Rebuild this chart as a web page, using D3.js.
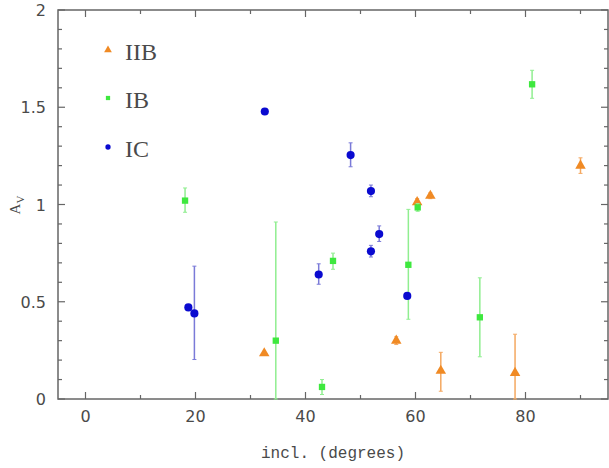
<!DOCTYPE html>
<html><head><meta charset="utf-8">
<script src="https://cdn.jsdelivr.net/npm/d3@7"></script>
<style>body{margin:0;background:#fff}svg{display:block}</style>
</head><body>
<svg id="c" width="609" height="468"></svg>
<script>
// Data: [incl, Av, errLow, errHigh]
const iibX = [32.5, 56.5, 64.6, 78.1, 60.3, 62.7, 90.0];
const iibY = [0.235, 0.30, 0.145, 0.134, 1.012, 1.045, 1.20];
const iibLo = [0.235, 0.28, 0.04, 0.0, 0.99, 1.03, 1.16];
const iibHi = [0.235, 0.32, 0.24, 0.333, 1.03, 1.06, 1.24];

const ibX = [18.1, 34.6, 43.0, 45.0, 58.7, 60.4, 71.7, 81.2];
const ibY = [1.02, 0.30, 0.062, 0.71, 0.69, 0.985, 0.42, 1.618];
const ibLo = [0.96, 0.0, 0.023, 0.667, 0.41, 0.965, 0.217, 1.546];
const ibHi = [1.085, 0.91, 0.10, 0.75, 0.975, 1.005, 0.623, 1.69];

const icX = [32.6, 18.7, 19.8, 42.4, 48.2, 51.9, 53.4, 51.9, 58.5];
const icY = [1.478, 0.471, 0.44, 0.64, 1.254, 1.069, 0.848, 0.759, 0.53];
const icLo = [1.478, 0.471, 0.203, 0.59, 1.194, 1.04, 0.81, 0.73, 0.53];
const icHi = [1.478, 0.471, 0.683, 0.695, 1.317, 1.10, 0.89, 0.79, 0.53];

const xMajor = [0, 20, 40, 60, 80];
const yMajor = [0, 0.5, 1, 1.5, 2];
const yLabels = ["0", "0.5", "1", "1.5", "2"];
const seriesNames = ["IIB", "IB", "IC"];

const svg = d3.select("#c");
const L = 58, R = 608, T = 10, B = 399;
const x = d3.scaleLinear().domain([-5, 95]).range([L, R]);
const y = d3.scaleLinear().domain([0, 2]).range([B, T]);
const axisCol = "#666", txtCol = "#4a4a4a";

// frame
svg.append("rect").attr("x", L).attr("y", T).attr("width", R - L).attr("height", B - T)
  .attr("fill", "none").attr("stroke", axisCol).attr("stroke-width", 1.5);

// x ticks
const xTicks = d3.range(0, 95, 10);
xTicks.forEach(v => {
  const len = v % 20 === 0 ? 7 : 4;
  svg.append("line").attr("x1", x(v)).attr("x2", x(v)).attr("y1", B).attr("y2", B - len).attr("stroke", axisCol).attr("stroke-width", 1.2);
  svg.append("line").attr("x1", x(v)).attr("x2", x(v)).attr("y1", T).attr("y2", T + len).attr("stroke", axisCol).attr("stroke-width", 1.2);
});
// y ticks
const yTicks = d3.range(0, 21).map(i => i / 10);
yTicks.forEach((v, i) => {
  const len = i % 5 === 0 ? 7 : 4;
  svg.append("line").attr("x1", L).attr("x2", L + len).attr("y1", y(v)).attr("y2", y(v)).attr("stroke", axisCol).attr("stroke-width", 1.2);
  svg.append("line").attr("x1", R).attr("x2", R - len).attr("y1", y(v)).attr("y2", y(v)).attr("stroke", axisCol).attr("stroke-width", 1.2);
});

// tick labels
svg.selectAll(".xl").data(xMajor).enter().append("text")
  .attr("x", d => x(d)).attr("y", 422).attr("text-anchor", "middle")
  .attr("font-family", "DejaVu Sans").attr("font-size", 16).attr("fill", txtCol).text(d => d);
svg.selectAll(".yl").data(yMajor).enter().append("text")
  .attr("x", 46).attr("y", d => y(d) + 6).attr("text-anchor", "end")
  .attr("font-family", "DejaVu Sans").attr("font-size", 16).attr("fill", txtCol)
  .text((d, i) => yLabels[i]);

// axis titles
svg.append("text").attr("x", 333).attr("y", 458).attr("text-anchor", "middle")
  .attr("font-family", "Liberation Mono").attr("font-size", 16).attr("fill", txtCol)
  .text("incl. (degrees)");
const yt = svg.append("text").attr("transform", "translate(20,205) rotate(-90)")
  .attr("text-anchor", "middle").attr("font-family", "Liberation Serif").attr("font-size", 15).attr("fill", txtCol);
yt.append("tspan").text("A");
yt.append("tspan").attr("font-size", 11).attr("dy", 4).text("V");

// series drawing
function drawSeries(xs, ys, lo, hi, color, errColor, symType, size) {
  const g = svg.append("g");
  xs.forEach((xv, i) => {
    if (hi[i] - lo[i] > 0.001) {
      g.append("line").attr("x1", x(xv)).attr("x2", x(xv)).attr("y1", y(lo[i])).attr("y2", y(hi[i]))
        .attr("stroke", errColor).attr("stroke-width", 1.5);
      [lo[i], hi[i]].forEach(e => {
        g.append("line").attr("x1", x(xv) - 2).attr("x2", x(xv) + 2).attr("y1", y(e)).attr("y2", y(e))
          .attr("stroke", errColor).attr("stroke-width", 1);
      });
    }
  });
  xs.forEach((xv, i) => {
    g.append("path").attr("d", d3.symbol().type(symType).size(size)())
      .attr("transform", `translate(${x(xv)},${y(ys[i])})`).attr("fill", color);
  });
}
const colors = ["#f08a24", "#3ee83e", "#0a0ad0"];
const errColors = ["#f4a860", "#90ee90", "#7a7ad8"];
drawSeries(iibX, iibY, iibLo, iibHi, colors[0], errColors[0], d3.symbolTriangle, 48);
drawSeries(ibX, ibY, ibLo, ibHi, colors[1], errColors[1], d3.symbolSquare, 40);
drawSeries(icX, icY, icLo, icHi, colors[2], errColors[2], d3.symbolCircle, 52);

// legend
const legSym = [d3.symbolTriangle, d3.symbolSquare, d3.symbolCircle];
const legSize = [26, 18, 22];
const legY = [50, 98, 147];
seriesNames.forEach((n, i) => {
  svg.append("path").attr("d", d3.symbol().type(legSym[i]).size(legSize[i])())
    .attr("transform", `translate(108,${legY[i]})`).attr("fill", colors[i]);
  svg.append("text").attr("x", 125).attr("y", legY[i] + 10)
    .attr("font-family", "Liberation Serif").attr("font-size", 24).attr("fill", txtCol).text(n);
});
</script>
</body></html>
